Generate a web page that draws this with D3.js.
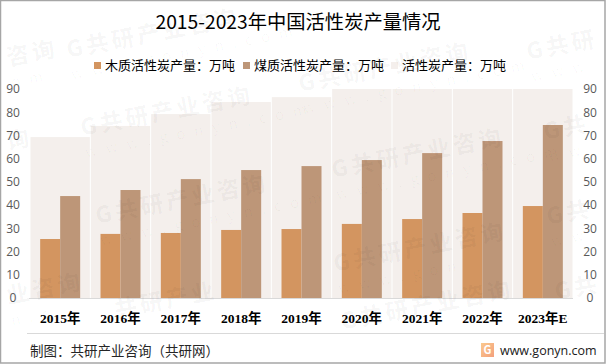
<!DOCTYPE html>
<html>
<head>
<meta charset="utf-8">
<script src="https://cdn.jsdelivr.net/npm/d3@7"></script>
<style>
  html, body { margin: 0; padding: 0; background: #fff; }
  svg { display: block; }
  text { font-family: "Noto Sans CJK SC", sans-serif; }
</style>
</head>
<body>
<script>
const years = ["2015年", "2016年", "2017年", "2018年", "2019年", "2020年", "2021年", "2022年", "2023年E"];
const woodValues = [25.4, 27.6, 28, 29.3, 29.7, 31.9, 34, 36.6, 39.6];
const coalValues = [43.9, 46.5, 51.2, 55.1, 56.8, 59.4, 62.4, 67.6, 74.5];
const totalValues = [69.3, 74.1, 79.2, 84.4, 86.5, 91.3, 96.4, 104.2, 114.1];
const yTicks = [0, 10, 20, 30, 40, 50, 60, 70, 80, 90];
const legendLabels = ["木质活性炭产量：万吨", "煤质活性炭产量：万吨", "活性炭产量：万吨"];

const svgWidth = 606, svgHeight = 364;
const margin = {top: 89, right: 33, bottom: 66, left: 30};
const width = svgWidth - margin.left - margin.right;
const height = svgHeight - margin.top - margin.bottom;

const woodColor = "#d39560", coalColor = "#bd9678", totalColor = "#f4efec";

const root = d3.select("body").append("svg")
    .attr("width", svgWidth)
    .attr("height", svgHeight);

const svg = root.append("g")
    .attr("transform", `translate(${margin.left},${margin.top})`);

const xScale = d3.scaleBand()
    .domain(years)
    .range([0, width]);

const yScale = d3.scaleLinear()
    .domain([0, 90])
    .range([height, 0])
    .clamp(true);

// total sits behind as a wide pale bar, cut off at 90
svg.selectAll(".total")
    .data(totalValues)
    .enter().append("rect")
    .attr("class", "total")
    .attr("x", (d, i) => xScale(years[i]) + 0.5)
    .attr("y", d => yScale(d))
    .attr("width", xScale.bandwidth() - 1)
    .attr("height", d => height - yScale(d))
    .attr("fill", totalColor);

const barW = 20;
svg.selectAll(".wood")
    .data(woodValues)
    .enter().append("rect")
    .attr("class", "wood")
    .attr("x", (d, i) => xScale(years[i]) + xScale.bandwidth() / 2 - barW)
    .attr("y", d => yScale(d))
    .attr("width", barW)
    .attr("height", d => height - yScale(d))
    .attr("fill", woodColor);

svg.selectAll(".coal")
    .data(coalValues)
    .enter().append("rect")
    .attr("class", "coal")
    .attr("x", (d, i) => xScale(years[i]) + xScale.bandwidth() / 2)
    .attr("y", d => yScale(d))
    .attr("width", barW)
    .attr("height", d => height - yScale(d))
    .attr("fill", coalColor);

// axes
const xAxis = svg.append("g")
    .attr("transform", `translate(0,${height})`)
    .call(d3.axisBottom(xScale).tickSize(0).tickPadding(15));
xAxis.select(".domain").attr("stroke", "#d9d9d9").attr("d", `M-1,0.5H${width}`);
xAxis.selectAll("text")
    .attr("fill", "#000")
    .attr("font-size", 13.5)
    .attr("font-weight", 700)
    .style("font-family", '"Liberation Serif", "Noto Sans CJK SC", serif');

const leftAxis = svg.append("g")
    .call(d3.axisLeft(yScale).tickValues(yTicks).tickSize(0));
const rightAxis = svg.append("g")
    .attr("transform", `translate(${width},0)`)
    .call(d3.axisRight(yScale).tickValues(yTicks).tickSize(0));
[leftAxis, rightAxis].forEach(a => {
    a.select(".domain").remove();
    a.selectAll("text")
        .attr("fill", "#595959")
        .attr("font-size", 12)
        .style("font-family", '"Open Sans", sans-serif');
});
leftAxis.selectAll("text").attr("text-anchor", "middle").attr("x", -17);
rightAxis.selectAll("text").attr("text-anchor", "middle").attr("x", 17);

// title
root.append("text")
    .attr("x", 298)
    .attr("y", 29)
    .attr("text-anchor", "middle")
    .attr("font-size", 19.3)
    .attr("fill", "#000")
    .text("2015-2023年中国活性炭产量情况");

// legend
const legendX = [94, 243, 391];
const legend = root.selectAll(".legend")
    .data(legendLabels)
    .enter().append("g")
    .attr("class", "legend")
    .attr("transform", (d, i) => `translate(${legendX[i]},62)`);
legend.append("rect")
    .attr("width", 7)
    .attr("height", 7)
    .attr("fill", (d, i) => [woodColor, coalColor, totalColor][i]);
legend.append("text")
    .attr("x", 11)
    .attr("y", 8)
    .attr("font-size", 13)
    .attr("fill", "#000")
    .text(d => d);

// footer
root.append("line")
    .attr("x1", 27).attr("x2", 604)
    .attr("y1", 333.5).attr("y2", 333.5)
    .attr("stroke", "#d9d9d9");
root.append("text")
    .attr("x", 30)
    .attr("y", 356)
    .attr("font-size", 13.5)
    .attr("fill", "#262626")
    .text("制图：共研产业咨询（共研网）");

const grad = root.append("defs").append("linearGradient")
    .attr("id", "logoGrad")
    .attr("x1", 0).attr("y1", 0).attr("x2", 1).attr("y2", 1);
grad.append("stop").attr("offset", 0).attr("stop-color", "#fbc98e");
grad.append("stop").attr("offset", 1).attr("stop-color", "#f3a07c");
root.append("rect")
    .attr("x", 481).attr("y", 343)
    .attr("width", 13).attr("height", 14)
    .attr("fill", "url(#logoGrad)");
root.append("text")
    .attr("x", 483.5).attr("y", 354)
    .attr("font-size", 11)
    .attr("font-weight", 700)
    .attr("fill", "#fff")
    .text("G");
root.append("text")
    .attr("x", 500)
    .attr("y", 355)
    .attr("font-size", 12.5)
    .attr("fill", "#1a1a1a")
    .style("font-family", '"Open Sans", sans-serif')
    .text("www.gonyn.com");

// watermark on top, very faint; the ones at the edges only show their visible part
const watermarks = [
    {x: 68, y: 58, main: "G共研产业咨询", sub: "www.gonyn.com"},
    {x: 82, y: 136, main: "G共研产业咨询", sub: "www.gonyn.com"},
    {x: 97, y: 224, main: "G共研产业咨询", sub: "www.gonyn.com"},
    {x: 300, y: 92, main: "G共研产业咨询", sub: "www.gonyn.com"},
    {x: 333, y: 178, main: "G共研产业咨询", sub: "www.gonyn.com"},
    {x: 335, y: 272, main: "G共研产业咨询", sub: "www.gon"},
    {x: 342, y: 330, main: "G共研产业咨询", sub: ""},
    {x: 116, y: 318, main: "共研产业", sub: ""},
    {x: 528, y: 60, main: "G共研", sub: "www"},
    {x: 545, y: 140, main: "G共", sub: "ww"},
    {x: 548, y: 225, main: "G共", sub: "ww"},
    {x: 556, y: 300, main: "G共", sub: "w"},
    {x: 8, y: 66, main: "咨询", sub: "om"},
    {x: 8, y: 150, main: "询", sub: ""},
    {x: 8, y: 304, main: "业咨询", sub: "n.c"}
];
const wm = root.selectAll(".wm")
    .data(watermarks)
    .enter().append("g")
    .attr("class", "wm")
    .attr("transform", d => `translate(${d.x},${d.y}) rotate(-11)`)
    .attr("fill", "#000")
    .attr("fill-opacity", 0.03);
wm.append("text")
    .attr("font-size", 23)
    .attr("font-weight", 900)
    .attr("letter-spacing", 3)
    .text(d => d.main);
wm.append("text")
    .attr("y", 22)
    .attr("font-size", 15)
    .attr("letter-spacing", 9)
    .text(d => d.sub);

// outer frame
root.append("rect")
    .attr("x", 0.5).attr("y", 0.5)
    .attr("width", svgWidth - 1.5).attr("height", svgHeight - 1.5)
    .attr("fill", "none")
    .attr("stroke", "#a6a6a6")
    .attr("stroke-width", 1.5);
</script>
</body>
</html>
